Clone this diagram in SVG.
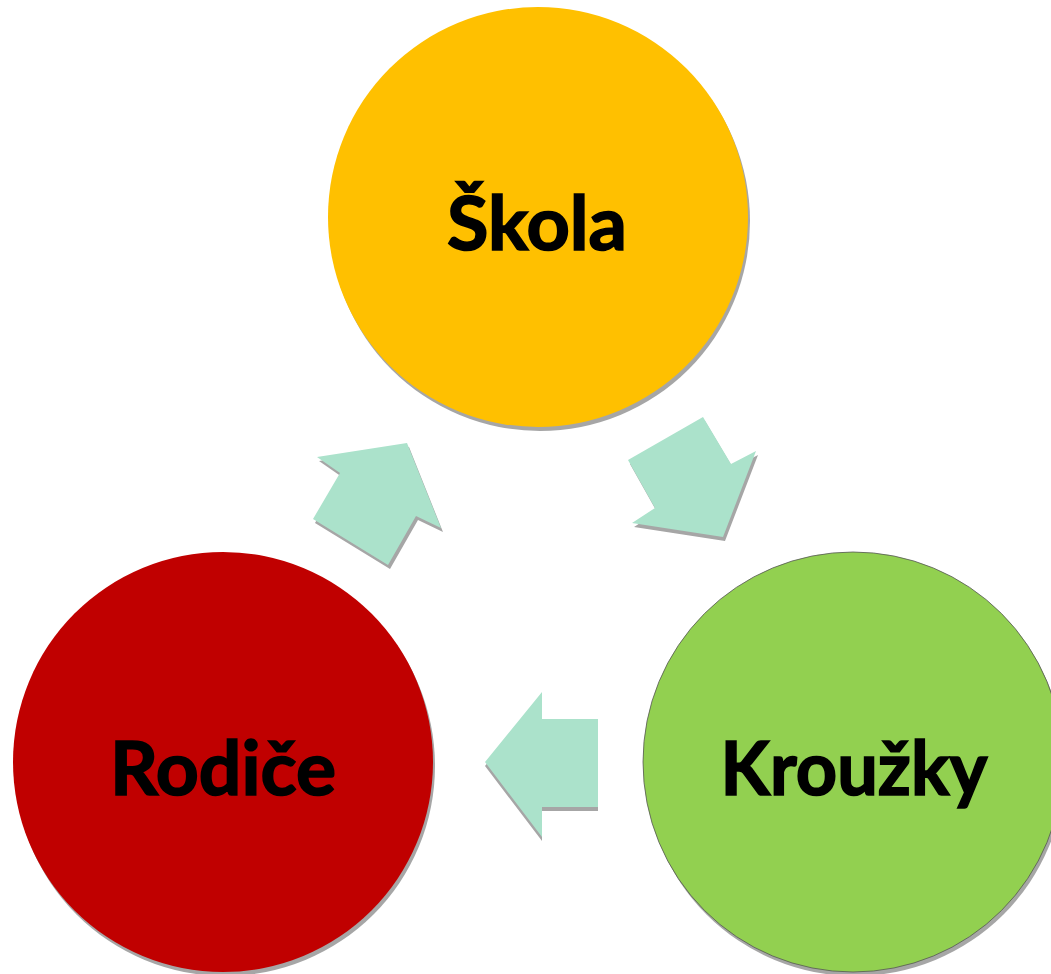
<svg xmlns="http://www.w3.org/2000/svg" width="1051" height="974" viewBox="0 0 1051 974">
<style>
.lbl{font-family:Lato,"Open Sans","Liberation Sans",sans-serif;font-weight:bold;fill:#000;stroke:#000;stroke-width:1.6;text-anchor:middle}
.arr{fill:#ABE2CB}
.sh{fill:#A6A6A6}
</style>
<rect width="1051" height="974" fill="#fff"/>
<g id="connectors">
<g id="arrow-rodice-skola">
<polygon class="sh" points="315,523 342,477 319,461 409,447 443,532 418,520 390,569"/>
<polygon class="arr" points="313,519 340,473 317,457 407,443 441,528 416,516 388,565"/>
</g>
<g id="arrow-skola-krouzky">
<polygon class="sh" points="705,421 630,464 657,512 634,527 725,541 758,455 733,468"/>
<polygon class="arr" points="703,417 628,460 655,508 632,523 723,537 756,451 731,464"/>
</g>
<g id="arrow-krouzky-rodice">
<polygon class="sh" points="485,766 542,696 542,723 598,723 598,811 542,811 542,841"/>
<polygon class="arr" points="485,762 542,692 542,719 598,719 598,807 542,807 542,837"/>
</g>
</g>
<g id="node-skola">
<circle cx="540" cy="221" r="210" fill="#A6A6A6"/>
<circle cx="538" cy="217" r="210" fill="#FFC000"/>
<text class="lbl" x="537" y="250" font-size="74" textLength="180" lengthAdjust="spacingAndGlyphs">Škola</text>
</g>
<g id="node-rodice">
<circle cx="225" cy="766" r="210" fill="#A6A6A6"/>
<circle cx="223" cy="762" r="210" fill="#C00000"/>
<text class="lbl" x="223" y="795" font-size="74" textLength="226" lengthAdjust="spacingAndGlyphs">Rodiče</text>
</g>
<g id="node-krouzky">
<circle cx="855" cy="766" r="210" fill="#A6A6A6"/>
<circle cx="853" cy="762" r="210" fill="#92D050" stroke="#555" stroke-width="0.8"/>
<text class="lbl" x="854" y="795" font-size="74" textLength="267" lengthAdjust="spacingAndGlyphs">Kroužky</text>
</g>
</svg>
